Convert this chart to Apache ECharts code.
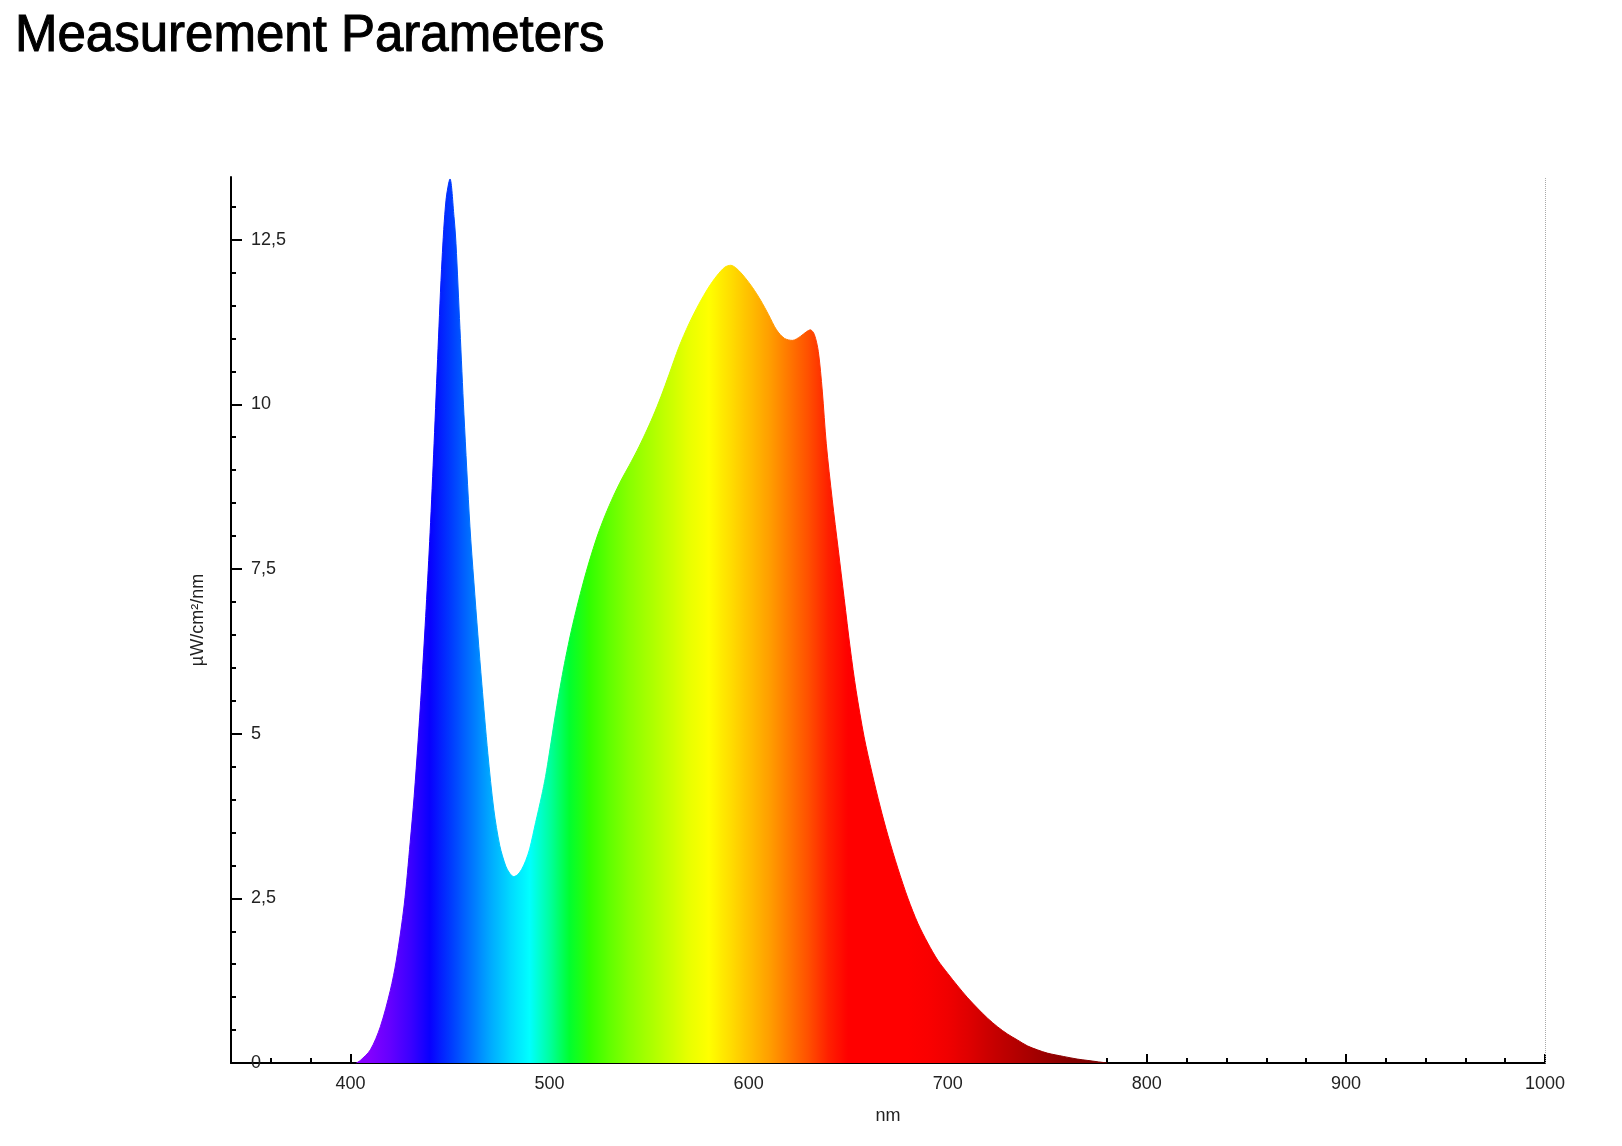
<!DOCTYPE html>
<html>
<head>
<meta charset="utf-8">
<title>Measurement Parameters</title>
<script src="https://cdn.jsdelivr.net/npm/echarts@6/dist/echarts.min.js"></script>
<style>
  html, body { margin: 0; padding: 0; background: #fff; }
  #container1 { width: 1622px; height: 1146px; }
</style>
</head>
<body>
<div id="container1"></div>
<script>
// wavelength (nm) and irradiance (µW/cm²/nm)
var wavelengths = [
    403, 405, 410, 415, 420, 423, 427, 430, 432, 434,
    436, 438, 440, 442, 444, 446, 448, 450, 452, 453,
    455, 457, 460, 462, 464, 466, 469, 472, 475, 478,
    480, 482, 484, 486, 488, 490, 493, 496, 498, 500,
    503, 506, 508, 511, 514, 517, 520, 524, 528, 532,
    536, 540, 544, 548, 552, 556, 560, 565, 570, 575,
    580, 584, 588, 591, 594, 598, 602, 606, 610, 614,
    618, 622, 626, 629, 631, 633, 635, 637, 639, 642,
    645, 648, 651, 654, 658, 662, 666, 670, 675, 680,
    685, 690, 695, 700, 705, 710, 715, 720, 725, 730,
    735, 740, 745, 750, 758, 765, 770, 775, 780
];
var irradiance = [
    0, 0.04, 0.2, 0.55, 1.1, 1.55, 2.4, 3.35, 4.05, 4.9,
    5.85, 6.9, 8.05, 9.4, 10.85, 12.2, 13.1, 13.42, 12.85, 12.44,
    11.15, 9.85, 8.15, 7.3, 6.5, 5.75, 4.7, 3.85, 3.3, 2.99,
    2.88, 2.83, 2.86, 2.94, 3.07, 3.25, 3.65, 4.05, 4.35, 4.72,
    5.3, 5.82, 6.14, 6.57, 6.95, 7.3, 7.62, 8.0, 8.32, 8.6,
    8.85, 9.07, 9.3, 9.55, 9.82, 10.12, 10.45, 10.87, 11.22, 11.52,
    11.78, 11.95, 12.08, 12.11, 12.06, 11.93, 11.77, 11.58, 11.36, 11.13,
    11.0, 10.97, 11.03, 11.1, 11.13, 11.06, 10.8, 10.2, 9.4, 8.55,
    7.8, 7.05, 6.3, 5.65, 4.95, 4.4, 3.9, 3.45, 2.95, 2.5,
    2.12, 1.82, 1.56, 1.36, 1.17, 0.99, 0.83, 0.68, 0.55, 0.44,
    0.35, 0.26, 0.2, 0.15, 0.1, 0.06, 0.04, 0.02, 0
];
var xMajorTicks = [400, 500, 600, 700, 800, 900, 1000];
var yMajorTicks = [0, 2.5, 5, 7.5, 10, 12.5];

(function container1() {
    var dom = document.getElementById("container1");
    var chart = echarts.init(dom);
    var font = "'Liberation Sans', Arial, sans-serif";

    // minor ticks: every 20 nm / every 0.5
    var xMinorTicks = [];
    for (var x = 360; x <= 980; x += 20) {
        if (x % 100 !== 0) xMinorTicks.push(x);
    }
    var yMinorTicks = [];
    for (var y = 0.5; y <= 13; y += 0.5) {
        if (Math.abs(y / 2.5 - Math.round(y / 2.5)) > 1e-6) yMinorTicks.push(y);
    }

    var seriesData = wavelengths.map(function (w, i) {
        return [w, irradiance[i]];
    });

    // spectrum colours, 380 -> 780 nm every 10 nm
    var spectrum = [
        '#8c00d8', '#8c00f0', '#8a00ff', '#8200ff', '#6400ff', '#3c00ff', '#0800ff', '#0038ff',
        '#0070ff', '#00a8ff', '#00d8ff', '#00ffff', '#00ffa0', '#00ff30', '#30ff00', '#60ff00',
        '#88ff00', '#a8ff00', '#c8ff00', '#e8ff00', '#ffff00', '#ffe000', '#ffc000', '#ffa000',
        '#ff7800', '#ff5000', '#ff2000', '#ff0000', '#ff0000', '#ff0000', '#ff0000', '#fa0000',
        '#f00000', '#e00000', '#cc0000', '#bb0000', '#aa0000', '#990000', '#880000', '#800000',
        '#780000'
    ];

    var option = {
        backgroundColor: '#fff',
        animation: false,
        title: {
            text: 'Measurement Parameters',
            left: 10,
            top: 6,
            textStyle: {
                fontFamily: font,
                fontWeight: 'normal',
                fontSize: 51,
                color: '#000',
                textBorderColor: '#000',
                textBorderWidth: 1
            }
        },
        grid: {
            left: 231,
            right: 77,
            top: 177,
            bottom: 83
        },
        visualMap: {
            show: false,
            type: 'continuous',
            dimension: 0,
            seriesIndex: 0,
            min: 380,
            max: 780,
            inRange: {
                color: spectrum
            }
        },
        xAxis: [{
            type: 'value',
            min: 340,
            max: 1000,
            position: 'bottom',
            name: 'nm',
            nameLocation: 'middle',
            nameGap: 44,
            nameTextStyle: {
                fontFamily: font,
                fontSize: 18,
                color: '#222'
            },
            axisLine: {
                onZero: false,
                lineStyle: { color: '#000', width: 2 }
            },
            axisTick: {
                inside: true,
                length: 9,
                customValues: xMajorTicks,
                lineStyle: { color: '#000', width: 2 }
            },
            axisLabel: {
                margin: 12,
                customValues: xMajorTicks,
                fontFamily: font,
                fontSize: 18,
                color: '#222',
                formatter: function (v) {
                    return String(v);
                }
            },
            splitLine: { show: false }
        }, {
            type: 'value',
            min: 340,
            max: 1000,
            position: 'bottom',
            axisLine: { show: false, onZero: false },
            axisTick: {
                inside: true,
                length: 5,
                customValues: xMinorTicks,
                lineStyle: { color: '#000', width: 2 }
            },
            axisLabel: { show: false },
            splitLine: { show: false }
        }],
        yAxis: [{
            type: 'value',
            min: 0,
            max: 13.45,
            position: 'left',
            name: 'µW/cm²/nm',
            nameLocation: 'middle',
            nameGap: 24,
            nameTextStyle: {
                fontFamily: font,
                fontSize: 18,
                color: '#222'
            },
            axisLine: {
                show: true,
                onZero: false,
                lineStyle: { color: '#000', width: 2 }
            },
            axisTick: {
                show: true,
                inside: true,
                length: 11,
                customValues: yMajorTicks,
                lineStyle: { color: '#000', width: 2 }
            },
            axisLabel: {
                inside: true,
                margin: 20,
                customValues: yMajorTicks,
                fontFamily: font,
                fontSize: 18,
                color: '#222',
                formatter: function (v) {
                    return String(v).replace('.', ',');
                }
            },
            splitLine: { show: false }
        }, {
            type: 'value',
            min: 0,
            max: 13.45,
            position: 'left',
            axisLine: { show: false, onZero: false },
            axisTick: {
                show: true,
                inside: true,
                length: 5,
                customValues: yMinorTicks,
                lineStyle: { color: '#000', width: 2 }
            },
            axisLabel: { show: false },
            splitLine: { show: false }
        }],
        series: [{
            type: 'line',
            xAxisIndex: 0,
            yAxisIndex: 0,
            smooth: 0.3,
            showSymbol: false,
            lineStyle: { width: 1 },
            areaStyle: { opacity: 1 },
            markLine: {
                silent: true,
                symbol: 'none',
                label: { show: false },
                lineStyle: { color: '#a8a8a8', type: 'dotted', width: 1 },
                data: [{ xAxis: 1000 }]
            },
            data: seriesData
        }]
    };

    if (option && typeof option === "object") {
        chart.setOption(option, true);
    }
})();
</script>
</body>
</html>
